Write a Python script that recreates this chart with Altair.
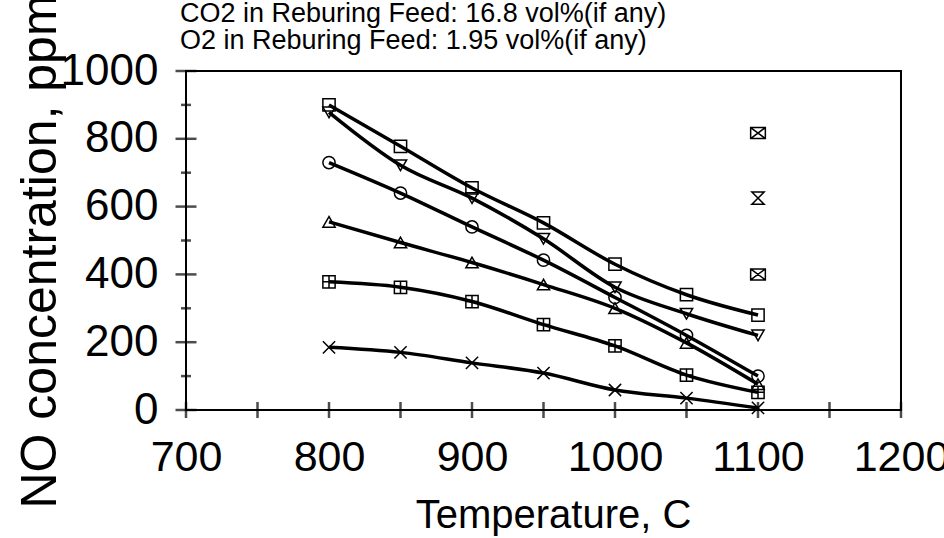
import altair as alt
import pandas as pd

# ---- data ----
temps = [800, 850, 900, 950, 1000, 1050, 1100]
no_square = [900, 778, 655, 552, 430, 340, 280]
no_tri_down = [878, 722, 625, 505, 362, 284, 220]
no_circle = [730, 640, 540, 442, 332, 220, 100]
no_tri_up = [555, 494, 435, 370, 300, 198, 76]
no_box_plus = [378, 362, 320, 252, 189, 103, 52]
no_cross = [185, 170, 139, 109, 59, 35, 6]

extra_temps = [1100, 1100, 1100]
extra_no = [817, 625, 400]

line_series = ["square", "tri_down", "circle", "tri_up", "box_plus", "cross"]
extra_series = ["boxx_hi", "hourglass", "boxx_lo"]

x_labels = [700, 800, 900, 1000, 1100, 1200]
x_ticks = [700, 750, 800, 850, 900, 950, 1000, 1050, 1100, 1150, 1200]
y_labels = [0, 200, 400, 600, 800, 1000]
y_minor = [100, 300, 500, 700, 900]

title_lines = ["CO2 in Reburing Feed: 16.8 vol%(if any)",
               "O2 in Reburing Feed: 1.95 vol%(if any)"]
x_title = "Temperature, C"
y_title = "NO concentration, ppm"

# ---- tables ----
rows = []
for name, vals in zip(line_series, [no_square, no_tri_down, no_circle,
                                   no_tri_up, no_box_plus, no_cross]):
    for t, v in zip(temps, vals):
        rows.append({"series": name, "temp": t, "no": v})
for name, t, v in zip(extra_series, extra_temps, extra_no):
    rows.append({"series": name, "temp": t, "no": v})
df = pd.DataFrame(rows)

shape_range = [
    "square",
    "triangle-down",
    "circle",
    "triangle-up",
    "M-1,-1H1V1H-1Z M0,-1V1 M-1,0H1",
    "M-1,-1L1,1 M-1,1L1,-1",
    "M-1.2,-0.9H1.2V0.9H-1.2Z M-1.2,-0.9L1.2,0.9 M-1.2,0.9L1.2,-0.9",
    "M-1,-1H1L-1,1H1Z",
    "M-1.2,-0.9H1.2V0.9H-1.2Z M-1.2,-0.9L1.2,0.9 M-1.2,0.9L1.2,-0.9",
]

REG = "Liberation Sans, Arial"

x_enc = alt.X(
    "temp:Q",
    scale=alt.Scale(domain=[700, 1200], nice=False, zero=False),
    axis=alt.Axis(values=x_labels, format="d", title=x_title, ticks=False,
                  tickSize=0, domain=False, grid=False, labelFont=REG,
                  labelFontSize=43, labelColor="black", labelPadding=26,
                  labelFlush=False, labelOverlap=False,
                  titleFont=REG, titleFontSize=40, titleFontWeight="normal",
                  titleColor="black", titleBaseline="alphabetic",
                  titleX=367, titleY=117, titleAlign="center"),
)
y_enc = alt.Y(
    "no:Q",
    scale=alt.Scale(domain=[0, 1000], nice=False),
    axis=alt.Axis(values=y_labels, format="d", title=y_title, ticks=False,
                  tickSize=0, domain=False, grid=False, labelFont=REG,
                  labelFontSize=44, labelColor="black", labelPadding=28,
                  labelFlush=False, labelOverlap=False,
                  titleFont=REG, titleFontSize=50, titleFontWeight="normal",
                  titleColor="black", titleBaseline="alphabetic",
                  titleX=-131, titleY=180, titleAlign="center", titleAngle=270),
)

lines = alt.Chart(df).transform_filter(
    alt.FieldOneOfPredicate(field="series", oneOf=line_series)
).mark_line(color="black", strokeWidth=3.5, interpolate="monotone").encode(
    x=x_enc, y=y_enc, detail="series:N", order="temp:Q"
)

points = alt.Chart(df).mark_point(
    filled=False, size=150, strokeWidth=1.5, color="black", opacity=1
).encode(
    x="temp:Q", y="no:Q",
    shape=alt.Shape("series:N",
                    scale=alt.Scale(domain=line_series + extra_series,
                                    range=shape_range),
                    legend=None),
)

xt = alt.Chart(pd.DataFrame({"temp": x_ticks})).mark_tick(
    orient="vertical", size=16, thickness=2.5, color="black"
).encode(x="temp:Q", y=alt.datum(0))

yt_major = alt.Chart(pd.DataFrame({"no": y_labels})).mark_tick(
    orient="horizontal", size=21, thickness=2.5, color="black"
).encode(y="no:Q", x=alt.datum(700))

yt_minor = alt.Chart(pd.DataFrame({"no": y_minor})).mark_tick(
    orient="horizontal", size=10, thickness=2.5, color="black"
).encode(y="no:Q", x=alt.datum(700))

one = pd.DataFrame({"k": [0]})
t1 = alt.Chart(one).mark_text(align="left", baseline="alphabetic", font=REG,
                              fontSize=27, color="black").encode(
    x=alt.value(-6), y=alt.value(-49), text=alt.value(title_lines[0]))
t2 = alt.Chart(one).mark_text(align="left", baseline="alphabetic", font=REG,
                              fontSize=27, color="black").encode(
    x=alt.value(-6), y=alt.value(-22), text=alt.value(title_lines[1]))

chart = alt.layer(lines, xt, yt_major, yt_minor, points, t1, t2).properties(
    width=715, height=339,
    autosize=alt.AutoSizeParams(type="none"),
    padding={"left": 186, "top": 71, "right": 43, "bottom": 128},
    background="white",
).configure_view(stroke="black", strokeWidth=2)

chart.save("out.html", embed_options={"renderer": "svg", "actions": False})
